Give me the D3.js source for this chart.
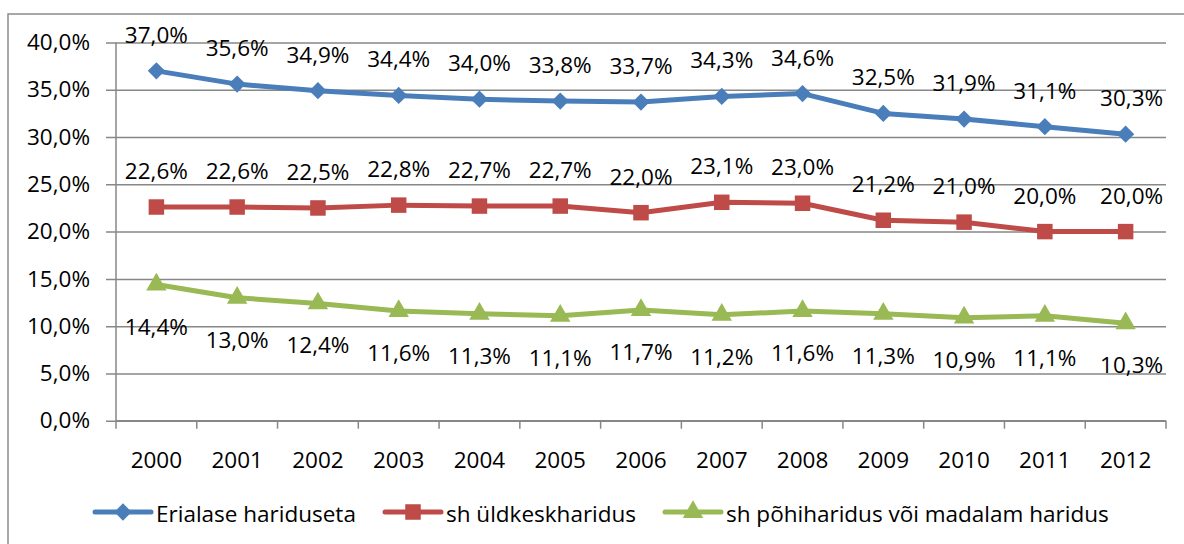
<!DOCTYPE html>
<html>
<head>
<meta charset="utf-8">
<script src="https://cdn.jsdelivr.net/npm/d3@7"></script>
<style>
  body { margin: 0; background: #fff; }
  svg text { font-family: "Open Sans", sans-serif; fill: #000; }
</style>
</head>
<body>
<svg class="svg"></svg>
<script>
// chart data
const years = ["2000", "2001", "2002", "2003", "2004", "2005", "2006", "2007", "2008", "2009", "2010", "2011", "2012"];
const seriesNames = ["Erialase hariduseta", "sh üldkeskharidus", "sh põhiharidus või madalam haridus"];
const erialaseta = [37.0, 35.6, 34.9, 34.4, 34.0, 33.8, 33.7, 34.3, 34.6, 32.5, 31.9, 31.1, 30.3];
const yldkesk = [22.6, 22.6, 22.5, 22.8, 22.7, 22.7, 22.0, 23.1, 23.0, 21.2, 21.0, 20.0, 20.0];
const pohi = [14.4, 13.0, 12.4, 11.6, 11.3, 11.1, 11.7, 11.2, 11.6, 11.3, 10.9, 11.1, 10.3];
const yTicks = [0, 5, 10, 15, 20, 25, 30, 35, 40];

const colors = ["#4a7ebb", "#be4b48", "#98b954"];
const allSeries = [erialaseta, yldkesk, pohi];

let svgWidth = 1184;
let svgHeight = 544;
const fontSize = 22.5;

const svg = d3.select(".svg")
    .attr("width", svgWidth)
    .attr("height", svgHeight);

// outer chart border (only top and left visible)
svg.append("rect")
    .attr("x", 8)
    .attr("y", 14)
    .attr("width", 1300)
    .attr("height", 600)
    .attr("fill", "none")
    .attr("stroke", "#8c8c8c")
    .attr("stroke-width", 1.5);

const plotLeft = 116, plotRight = 1166, plotTop = 42.5, plotBottom = 420.7;

const xScale = d3.scaleBand()
    .domain(years)
    .range([plotLeft, plotRight]);

const yScale = d3.scaleLinear()
    .domain([0, 40])
    .range([plotBottom, plotTop]);

const fmt = v => d3.format(".1f")(v).replace(".", ",") + "%";

// gridlines + y axis labels
const yAxis = svg.append("g")
    .attr("transform", "translate(" + plotLeft + ",0)")
    .call(d3.axisLeft(yScale)
        .tickValues(yTicks)
        .tickSize(-(plotRight - plotLeft))
        .tickPadding(26)
        .tickFormat(fmt));
yAxis.select(".domain").remove();
yAxis.selectAll(".tick line")
    .attr("x1", -10)
    .attr("stroke", "#878787")
    .attr("stroke-width", 1.5);
yAxis.selectAll(".tick text")
    .attr("font-size", fontSize)
    .attr("font-family", "'Open Sans'");

// vertical axis line
svg.append("line")
    .attr("x1", plotLeft).attr("x2", plotLeft)
    .attr("y1", plotTop).attr("y2", plotBottom)
    .attr("stroke", "#878787")
    .attr("stroke-width", 1.5);

// x axis with ticks between categories
svg.append("line")
    .attr("x1", plotLeft).attr("x2", plotRight)
    .attr("y1", plotBottom).attr("y2", plotBottom)
    .attr("stroke", "#878787")
    .attr("stroke-width", 1.5);

const boundaries = years.map(d => xScale(d)).concat([plotRight]);
svg.selectAll(".xtick")
    .data(boundaries)
    .enter()
    .append("line")
    .attr("x1", d => d).attr("x2", d => d)
    .attr("y1", plotBottom).attr("y2", plotBottom + 8)
    .attr("stroke", "#878787")
    .attr("stroke-width", 1.5);

svg.selectAll(".xlabel")
    .data(years)
    .enter()
    .append("text")
    .attr("x", d => xScale(d) + xScale.bandwidth() / 2)
    .attr("y", 468)
    .attr("text-anchor", "middle")
    .attr("font-size", fontSize)
    .text(d => d);

const cx = (d, i) => xScale(years[i]) + xScale.bandwidth() / 2;

const line = d3.line()
    .x(cx)
    .y(d => yScale(d));

// marker shapes
const markerPath = [
    d3.symbol().type(d3.symbolDiamond2).size(190),
    d3.symbol().type(d3.symbolSquare).size(240),
    d3.symbol().type(d3.symbolTriangle).size(180)
];

allSeries.forEach((vals, s) => {
    svg.append("path")
        .datum(vals)
        .attr("d", line)
        .attr("fill", "none")
        .attr("stroke", colors[s])
        .attr("stroke-width", 5)
        .attr("stroke-linejoin", "round");

    svg.selectAll(".m" + s)
        .data(vals)
        .enter()
        .append("path")
        .attr("d", markerPath[s])
        .attr("transform", (d, i) => "translate(" + cx(d, i) + "," + yScale(d) + ")")
        .attr("fill", colors[s]);

    // labels: above for first two series, below for the third
    svg.selectAll(".l" + s)
        .data(vals)
        .enter()
        .append("text")
        .attr("x", (d, i) => cx(d, i) + (i === years.length - 1 ? 6 : 0))
        .attr("y", d => yScale(d) + (s === 2 ? 50 : -28))
        .attr("text-anchor", "middle")
        .attr("font-size", fontSize)
        .text(d => fmt(d));
});

// legend
const legendX = [95, 385, 665];
const legend = svg.selectAll(".legend")
    .data(seriesNames)
    .enter()
    .append("g")
    .attr("transform", (d, i) => "translate(" + legendX[i] + ",512)");

legend.append("line")
    .attr("x1", 0).attr("x2", 56)
    .attr("stroke", (d, i) => colors[i])
    .attr("stroke-width", 5)
    .attr("stroke-linecap", "round");

legend.append("path")
    .attr("d", (d, i) => markerPath[i]())
    .attr("transform", "translate(28,0)")
    .attr("fill", (d, i) => colors[i]);

legend.append("text")
    .attr("x", 61)
    .attr("y", 10)
    .attr("font-size", fontSize)
    .text(d => d);
</script>
</body>
</html>
